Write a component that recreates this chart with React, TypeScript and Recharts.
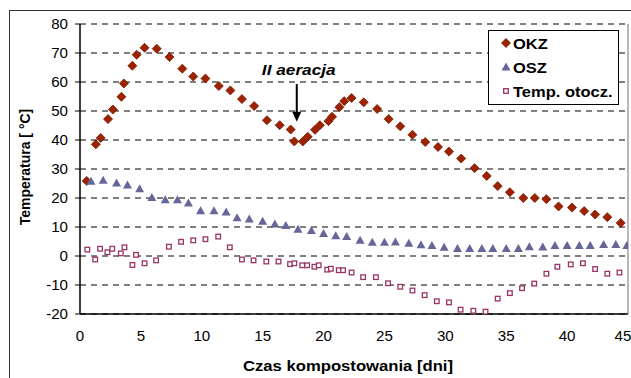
import { ScatterChart, Scatter, XAxis, YAxis, CartesianGrid, Legend, ReferenceLine, ReferenceDot, Label } from "recharts"

const FONT = '"Liberation Sans", Arial, sans-serif'

// OKZ – temperatura w pryzmie
const okzDays = [0.55, 1.3, 1.7, 2.3, 2.7, 3.4, 3.6, 4.3, 4.65, 5.3, 6.3, 7.35, 8.4, 9.3, 10.3, 11.4, 12.35, 13.3, 14.3, 15.35, 16.4, 17.3, 17.6, 18.3, 18.7, 19.3, 19.7, 20.4, 20.7, 21.3, 21.7, 22.3, 23.3, 24.4, 25.35, 26.3, 27.3, 28.35, 29.4, 30.3, 31.3, 32.4, 33.4, 34.3, 35.3, 36.4, 37.35, 38.3, 39.3, 40.4, 41.4, 42.3, 43.3, 44.4]
const okzTemp = [25.9, 38.5, 40.7, 47.2, 50.5, 54.9, 59.5, 65.6, 69.4, 71.8, 71.5, 68.6, 64.6, 61.9, 61.2, 58.6, 57.1, 54.1, 51.7, 46.8, 45.1, 43.6, 39.5, 39.5, 41.1, 43.5, 45.1, 46.5, 48, 51.3, 53.4, 54.5, 53, 50.7, 47.2, 44.7, 41.8, 39.3, 37.6, 36, 33.6, 30.3, 27.6, 24.1, 22, 20, 20, 19.6, 17.1, 16.7, 15.5, 14.3, 13.4, 11.4]

// OSZ
const oszDays = [0.9, 1.9, 3, 3.9, 4.9, 5.9, 7, 8, 8.9, 9.9, 11, 12, 12.9, 13.9, 15, 16, 16.9, 17.9, 19, 20, 21, 21.9, 23, 24, 25, 25.9, 27, 28, 28.9, 29.9, 31, 32, 33, 33.9, 35, 36, 36.9, 38, 39, 40, 41, 41.9, 43, 44, 44.9]
const oszTemp = [25.8, 26.1, 25.2, 24.5, 23.2, 20.2, 19.4, 19.4, 18.3, 15.6, 15.6, 15.2, 13.2, 12.8, 12, 11, 10.5, 9.2, 8.8, 7.8, 7, 6.7, 5.4, 4.7, 4.7, 4.8, 4.4, 3.9, 3.6, 3, 2.6, 2.6, 2.6, 2.6, 2.6, 2.6, 3.2, 3.1, 3.6, 3.6, 3.6, 3.6, 4, 4, 3.6]

// temperatura otoczenia
const ambDays = [0.6, 1.25, 1.65, 2.25, 2.65, 3.35, 3.65, 4.3, 4.6, 5.3, 6.25, 7.3, 8.3, 9.3, 10.3, 11.35, 12.3, 13.3, 14.25, 15.3, 16.3, 17.25, 17.6, 18.25, 18.65, 19.25, 19.6, 20.3, 20.6, 21.25, 21.6, 22.3, 23.25, 24.3, 25.3, 26.3, 27.3, 28.3, 29.3, 30.3, 31.25, 32.3, 33.3, 34.3, 35.3, 36.3, 37.3, 38.3, 39.2, 40.3, 41.3, 42.3, 43.3, 44.3]
const ambTemp = [2.2, -1.2, 2.5, 1.3, 2.5, 0.9, 3.0, -3.1, 0.4, -2.5, -1.5, 3.2, 4.9, 5.4, 5.8, 6.7, 3.0, -1.2, -1.5, -1.9, -1.9, -2.8, -2.5, -3.2, -3.2, -3.7, -3.2, -4.7, -4.4, -4.9, -4.9, -5.7, -7.3, -7.3, -9.4, -10.6, -11.9, -13.5, -15.6, -16.0, -18.5, -18.9, -19.2, -14.7, -12.8, -11.1, -9.5, -6.1, -3.7, -2.9, -2.5, -4.5, -6.1, -5.7]

const xTicks = [0, 5, 10, 15, 20, 25, 30, 35, 40, 45]
const yTicks = [-20, -10, 0, 10, 20, 30, 40, 50, 60, 70, 80]

// druga aeracja – strzałka
const aeracjaDay = 17.8
const aeracjaText = 64.3
const arrowFrom = 59.3
const arrowTo = 46.3

const toPoints = (xs: number[], ys: number[]) => xs.map((d, i) => ({ day: d, temp: ys[i] }))
const okz = toPoints(okzDays, okzTemp)
const osz = toPoints(oszDays, oszTemp)
const amb = toPoints(ambDays, ambTemp)

const OKZ_COLOR = "#9e2200"
const OSZ_COLOR = "#666699"
const AMB_COLOR = "#993366"

// the original picture is a bit stretched horizontally
const STRETCH = 1.15

const Diamond = ({ cx, cy }: any) => (
  <polygon
    points={`${cx},${cy - 4.5} ${cx + 4.5},${cy} ${cx},${cy + 4.5} ${cx - 4.5},${cy}`}
    fill={OKZ_COLOR}
    stroke="#761800"
    strokeWidth={0.8}
  />
)

const Triangle = ({ cx, cy }: any) => (
  <polygon points={`${cx},${cy - 4.5} ${cx + 4.5},${cy + 3.5} ${cx - 4.5},${cy + 3.5}`} fill={OSZ_COLOR} />
)

const Square = ({ cx, cy }: any) => (
  <rect x={cx - 2.3} y={cy - 2.3} width={4.6} height={4.6} fill="#fff" stroke={AMB_COLOR} strokeWidth={1.3} />
)

const StretchText = ({ x, y, anchor, size, children, italic, bold, sx = STRETCH, dy }: any) => (
  <text
    transform={`translate(${x} ${y}) scale(${sx} 1)`}
    textAnchor={anchor}
    dominantBaseline={dy ? undefined : "central"}
    dy={dy}
    fontFamily={FONT}
    fontWeight={bold ? "bold" : "normal"}
    fontStyle={italic ? "italic" : "normal"}
    fontSize={size}
    fill="#000"
  >
    {children}
  </text>
)

const YTick = ({ x, y, payload }: any) => (
  <StretchText x={x} y={y} anchor="end" size={14} sx={1.08}>
    {payload.value}
  </StretchText>
)

const XTick = ({ x, y, payload }: any) => (
  <StretchText x={x} y={y} anchor="middle" size={14} sx={1.08} dy="0.71em">
    {payload.value}
  </StretchText>
)

const LegendBox = () => {
  const rows = [
    { name: "OKZ", Shape: Diamond },
    { name: "OSZ", Shape: Triangle },
    { name: "Temp. otocz.", Shape: Square },
  ]
  return (
    <div
      style={{
        width: 131,
        height: 75,
        boxSizing: "border-box",
        border: "1.5px solid #000",
        background: "#fff",
        fontFamily: FONT,
        fontWeight: "bold",
        fontSize: 15,
        color: "#000",
      }}
    >
      {rows.map(({ name, Shape }) => (
        <div key={name} style={{ height: 24, display: "flex", alignItems: "center" }}>
          <svg width={24} height={24} style={{ flex: "none" }}>
            <Shape cx={17} cy={12} />
          </svg>
          <span style={{ display: "inline-block", transform: "scaleX(1.1)", transformOrigin: "left center", whiteSpace: "nowrap" }}>
            {name}
          </span>
        </div>
      ))}
    </div>
  )
}

export default function App() {
  return (
    <div style={{ position: "fixed", left: 0, top: 0, width: 631, height: 378, overflow: "hidden", background: "#fff" }}>
      <div
        style={{ position: "absolute", left: 9, top: 10, width: 700, height: 500, border: "1.5px solid #333" }}
      />
      <div style={{ position: "absolute", left: 0, top: 0 }}>
        <ScatterChart width={631} height={378} margin={{ top: 24, right: 3, bottom: 0, left: 0 }}>
          <CartesianGrid vertical={false} stroke="#000" strokeDasharray="6 5" />
          <XAxis
            type="number"
            dataKey="day"
            domain={[0, 45]}
            ticks={xTicks}
            height={64}
            tickLine={false}
            tickSize={5}
            tickMargin={12}
            axisLine={{ stroke: "#000", strokeWidth: 1.5 }}
            tick={<XTick />}
            allowDataOverflow
          >
            <Label
              content={(p: any) => {
                const vb = p.viewBox
                return (
                  <StretchText x={vb.x + vb.width / 2 - 6} y={vb.y + 52} anchor="middle" size={14.5} bold>
                    Czas kompostowania [dni]
                  </StretchText>
                )
              }}
            />
          </XAxis>
          <YAxis
            type="number"
            dataKey="temp"
            domain={[-20, 80]}
            ticks={yTicks}
            width={80}
            tickSize={5}
            tickMargin={7}
            tickLine={{ stroke: "#000" }}
            axisLine={{ stroke: "#000", strokeWidth: 1.5 }}
            tick={<YTick />}
            allowDataOverflow
          >
            <Label
              content={(p: any) => {
                const vb = p.viewBox
                const x = vb.x + 25
                const y = vb.y + vb.height / 2 - 2
                return (
                  <text
                    x={x}
                    y={y}
                    transform={`rotate(-90 ${x} ${y})`}
                    textAnchor="middle"
                    dominantBaseline="central"
                    fontFamily={FONT}
                    fontWeight="bold"
                    fontSize={14}
                    fill="#000"
                  >
                    Temperatura [ °C]
                  </text>
                )
              }}
            />
          </YAxis>
          <ReferenceLine x={45} stroke="#888" strokeWidth={1.2} />
          <Scatter name="OKZ" data={okz} shape={Diamond} isAnimationActive={false} />
          <Scatter name="OSZ" data={osz} shape={Triangle} isAnimationActive={false} />
          <Scatter name="Temp. otocz." data={amb} shape={Square} isAnimationActive={false} />
          <ReferenceLine
            segment={[
              { x: aeracjaDay, y: arrowFrom },
              { x: aeracjaDay, y: arrowTo + 2 },
            ]}
            stroke="#000"
            strokeWidth={2}
          />
          <ReferenceDot
            x={aeracjaDay}
            y={arrowTo}
            shape={({ cx, cy }: any) => (
              <polygon points={`${cx},${cy} ${cx + 4.5},${cy - 10} ${cx - 4.5},${cy - 10}`} fill="#000" />
            )}
          />
          <ReferenceDot
            x={aeracjaDay}
            y={aeracjaText}
            shape={({ cx, cy }: any) => (
              <StretchText x={cx + 2} y={cy} anchor="middle" size={15} bold italic>
                II aeracja
              </StretchText>
            )}
          />
          <Legend
            layout="vertical"
            align="center"
            verticalAlign="middle"
            content={() => <LegendBox />}
            wrapperStyle={{ position: "absolute", left: 488, top: 30, width: 131, height: 75 }}
          />
        </ScatterChart>
      </div>
    </div>
  )
}
